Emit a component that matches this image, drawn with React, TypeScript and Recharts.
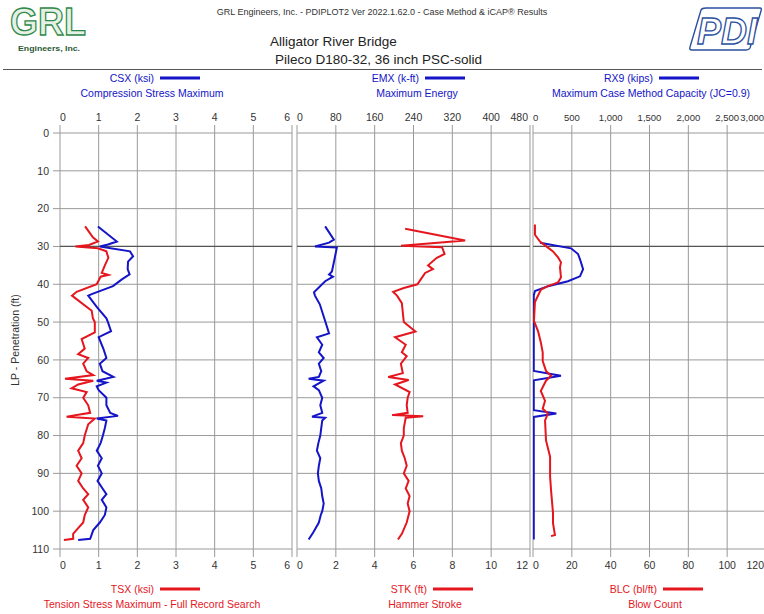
import React from 'react';
import { LineChart, Line, XAxis, YAxis, CartesianGrid, ReferenceLine } from 'recharts';

const FONT = "'Liberation Sans Narrow', 'Arial Narrow', 'Liberation Sans', Arial, sans-serif";
const BLUE = '#1414c8';
const RED = '#e5161e';
const GRID = '#9a9a9a';

// axis ticks
const depthTicks = [0, 10, 20, 30, 40, 50, 60, 70, 80, 90, 100, 110];
const csxTicks = [0, 1, 2, 3, 4, 5, 6];
const tsxTicks = [0, 1, 2, 3, 4, 5, 6];
const emxTicks = [0, 80, 160, 240, 320, 400, 480];
const stkTicks = [0, 2, 4, 6, 8, 10, 12];
const rx9Ticks = [0, 500, 1000, 1500, 2000, 2500, 3000];
const blcTicks = [0, 20, 40, 60, 80, 100, 120];

// CSX (ksi) - compression stress max
const csxDepth = [24.7, 28.7, 29.5, 30, 31.3, 32.6, 34, 36, 37.4, 38.7, 40.5, 42.6, 43, 46, 49, 50, 52.4, 54, 57, 59.5, 61, 63, 64.5, 65.5, 66, 67, 68, 70, 72, 74, 74.8, 75.5, 76, 78, 80, 82, 84, 86, 88, 90, 92, 94, 95.5, 97, 99, 101, 103, 105, 107.3, 107.6];
const csxVals = [0.98, 1.47, 1.24, 1.03, 1.81, 1.89, 1.76, 1.75, 1.8, 1.6, 1.37, 0.82, 0.73, 0.95, 1.2, 1.24, 1.32, 1.0, 1.12, 1.2, 1.03, 1.1, 1.38, 0.95, 1.2, 0.95, 1.0, 1.2, 1.2, 1.3, 1.5, 0.95, 1.2, 1.16, 1.11, 1.05, 0.95, 1.08, 0.98, 1.08, 0.97, 1.1, 1.2, 1.08, 1.2, 1.16, 1.03, 0.86, 0.78, 0.47];

// TSX (ksi) - tension stress max
const tsxDepth = [24.7, 27.6, 28.7, 29.6, 30, 30.5, 31.3, 33, 35, 37, 37.5, 38, 40, 42, 43, 47, 49, 50, 52.7, 54.5, 57, 58.5, 59.5, 61, 63, 64, 65, 65.5, 66.5, 67.5, 68.5, 70, 72, 74, 75, 75.5, 77, 80, 82, 84, 86, 88, 90, 92, 94, 95.5, 97, 99, 101, 103, 104.5, 106, 107.3, 107.6];
const tsxVals = [0.65, 0.85, 0.98, 0.75, 0.4, 0.98, 1.2, 1.25, 1.16, 1.08, 1.25, 1.05, 0.95, 0.43, 0.31, 0.82, 0.85, 0.9, 0.9, 0.56, 0.64, 0.47, 0.73, 0.6, 0.69, 0.86, 0.13, 0.86, 0.47, 0.3, 0.69, 0.6, 0.73, 0.78, 0.17, 0.9, 0.73, 0.64, 0.6, 0.47, 0.56, 0.43, 0.56, 0.47, 0.6, 0.73, 0.6, 0.73, 0.64, 0.6, 0.47, 0.34, 0.34, 0.1];

// EMX (k-ft) - max energy
const emxDepth = [24.7, 28.2, 29, 30, 30.3, 32.9, 36.6, 37.4, 38, 39.2, 42.1, 43, 45.3, 49.7, 53, 54, 56, 58, 59.5, 61, 63, 64.5, 65, 65.5, 67, 68, 70, 72, 74, 75, 75.3, 76, 78, 80, 82, 84, 86, 88, 90, 92, 94, 96, 98, 100, 101, 103, 105.5, 107.5];
const emxVals = [58, 76, 66, 37, 82, 78, 72, 66, 74, 58, 35, 37, 47, 58, 66, 41, 52, 45, 55, 45, 50, 45, 24, 55, 34, 45, 52, 48, 52, 31, 58, 52, 50, 48, 44, 41, 48, 45, 43, 45, 50, 52, 55, 52, 49, 45, 34, 24];

// STK (ft) - hammer stroke
const stkDepth = [25.3, 28.4, 29.8, 30.2, 32, 33, 35, 36, 37, 38.5, 40, 41, 42, 43, 45, 50, 52.5, 54, 56, 58, 59, 61, 63.5, 64.5, 65.3, 66.5, 68.5, 70, 72, 74, 74.6, 74.9, 75.3, 78, 80, 82, 84, 86, 88, 90, 92, 94, 96, 98, 100, 103, 106, 107.5];
const stkVals = [5.57, 8.66, 5.36, 7.47, 7.6, 7.2, 6.75, 7.0, 6.6, 6.4, 6.2, 5.5, 4.95, 5.15, 5.4, 5.5, 6.1, 5.05, 5.6, 5.4, 5.65, 5.35, 5.45, 4.7, 5.75, 5.05, 5.8, 5.7, 5.65, 5.7, 4.9, 6.5, 5.6, 5.5, 5.5, 5.35, 5.4, 5.55, 5.65, 5.5, 5.75, 5.6, 5.8, 5.7, 5.8, 5.65, 5.4, 5.2];

// RX9 (kips) - max case method capacity
const rx9Depth = [29, 30.5, 32, 33.4, 36, 37.9, 39.2, 40.5, 41.8, 43, 62.9, 64.2, 65.4, 73.3, 74.2, 75.1, 107.5];
const rx9Vals = [90, 490, 580, 605, 645, 605, 450, 195, 25, 10, 10, 360, 10, 10, 300, 10, 10];

// BLC (bl/ft) - blow count
const blcDepth = [24.2, 26.9, 28.7, 30.3, 31.3, 32.9, 34.2, 35.5, 38.2, 39.5, 40.5, 41.4, 44.7, 49.7, 52.4, 55.3, 58, 60.3, 62.9, 64.2, 65.5, 68.2, 70.8, 72.9, 74.2, 76, 81.3, 85.6, 90.8, 94.5, 100.5, 103.2, 106.3, 106.6];
const blcVals = [1, 1, 3.6, 7.7, 10.3, 12.9, 14.4, 13.9, 14.4, 12.9, 7.7, 4.1, 1, 0.5, 2.6, 4, 5, 5, 6.7, 9.3, 6.7, 4, 6.2, 5, 7.7, 6.2, 6.7, 8.8, 8.8, 9.3, 10.3, 10.3, 11.3, 9.3];

const pairs = (d: number[], v: number[]) => d.map((depth, i) => ({ depth, v: v[i] }));

const comma = (n: number) => n.toLocaleString('en-US');

const makeTick = (side: 'top' | 'bottom', max: number, fmt: (n: number) => string, size = 10.5) => (p: any) => {
  const val = p.payload.value;
  let anchor: 'start' | 'middle' | 'end' = 'middle';
  let x = p.x;
  if (val === 0) anchor = 'start';
  if (val === max) { anchor = 'end'; x = p.x - 2; }
  return (
    <text x={x} y={p.y} dy={side === 'top' ? 0 : 9} textAnchor={anchor} fontSize={size} fill="#333" fontFamily={FONT}>
      {fmt(val)}
    </text>
  );
};

type AxisDef = { max: number; ticks: number[]; fmt: (n: number) => string; data: any[]; size?: number };

function Panel({ left, width, margin, showY, top, bottom }: { left: number; width: number; margin: any; showY: boolean; top: AxisDef; bottom: AxisDef }) {
  return (
    <div style={{ position: 'absolute', left, top: 100 }}>
      <LineChart layout="vertical" width={width} height={480} margin={margin}>
        <CartesianGrid xAxisId="top" stroke={GRID} />
        <XAxis xAxisId="top" orientation="top" type="number" domain={[0, top.max]} ticks={top.ticks} interval={0}
          height={30} tickSize={8} tickMargin={4} tickLine={{ stroke: GRID }} axisLine={false}
          tick={makeTick('top', top.max, top.fmt, top.size)} allowDataOverflow />
        <XAxis xAxisId="bottom" orientation="bottom" type="number" domain={[0, bottom.max]} ticks={bottom.ticks} interval={0}
          height={30} tickSize={8} tickMargin={3} tickLine={{ stroke: GRID }} axisLine={false}
          tick={makeTick('bottom', bottom.max, bottom.fmt, bottom.size)} allowDataOverflow />
        <YAxis type="number" dataKey="depth" domain={[0, 110]} ticks={depthTicks} interval={0} hide={!showY}
          width={45} tickSize={7} tickMargin={4} tickLine={{ stroke: GRID }} axisLine={false}
          tick={{ fontSize: 10.5, fill: '#333', fontFamily: FONT }} />
        <ReferenceLine xAxisId="top" y={30} stroke="#555" strokeWidth={1.2} />
        <Line xAxisId="top" data={top.data} dataKey="v" type="linear" stroke={BLUE} strokeWidth={2} dot={false} isAnimationActive={false} />
        <Line xAxisId="bottom" data={bottom.data} dataKey="v" type="linear" stroke={RED} strokeWidth={2} dot={false} isAnimationActive={false} />
      </LineChart>
    </div>
  );
}

const Legend = ({ cx, y, name, desc, color }: { cx: number; y: number; name: string; desc: string; color: string }) => (
  <g fontFamily={FONT} fontSize={10.5} fill={color}>
    <text x={cx + 2} y={y} textAnchor="end">{name}</text>
    <line x1={cx + 8} x2={cx + 48} y1={y - 4} y2={y - 4} stroke={color} strokeWidth={3} />
    <text x={cx} y={y + 15} textAnchor="middle">{desc}</text>
  </g>
);

export default function App() {
  const fmt = (n: number) => String(n);
  return (
    <div style={{ position: 'absolute', left: 0, top: 0, width: 764, height: 614, overflow: 'hidden', background: '#fff', fontFamily: FONT }}>
      <svg width={764} height={614} style={{ position: 'absolute', left: 0, top: 0 }}>
        {/* GRL logo */}
        <text x={10} y={35} fontSize={38} fontWeight="bold" fill="#e6f1e6" stroke="#2f8a4a" strokeWidth={1.3} fontFamily={FONT}
          textLength={76} lengthAdjust="spacingAndGlyphs">GRL</text>
        <text x={18} y={51} fontSize={8} fontWeight="bold" fill="#2b5a34" fontFamily={FONT}
          textLength={62} lengthAdjust="spacingAndGlyphs">Engineers, Inc.</text>
        {/* PDI logo */}
        <path d="M706 8 H760 Q762 8 761 11 L750 48 Q749 50 746 50 H692 Q689 50 690 47 L701 10 Q702 8 706 8 Z" fill="none" stroke="#2a4fa0" strokeWidth={1.4} />
        <text x={697} y={44} fontSize={36} fontStyle="italic" fontWeight="bold" fill="#fff" stroke="#2a4fa0" strokeWidth={1.3} fontFamily={FONT}>PDI</text>
        {/* header */}
        <text x={382} y={15} fontSize={9} fill="#333" textAnchor="middle">GRL Engineers, Inc. - PDIPLOT2 Ver 2022.1.62.0 - Case Method &amp; iCAP® Results</text>
        <text x={270} y={46} fontSize={13.5} fill="#222">Alligator River Bridge</text>
        <text x={275} y={64} fontSize={13.5} fill="#222">Pileco D180-32, 36 inch PSC-solid</text>
        <line x1={3} x2={762} y1={69.5} y2={69.5} stroke="#555" strokeWidth={1} />
        {/* legends */}
        <Legend cx={152} y={82} name="CSX (ksi)" desc="Compression Stress Maximum" color={BLUE} />
        <Legend cx={417} y={82} name="EMX (k-ft)" desc="Maximum Energy" color={BLUE} />
        <Legend cx={651} y={82} name="RX9 (kips)" desc="Maximum Case Method Capacity (JC=0.9)" color={BLUE} />
        <Legend cx={152} y={593} name="TSX (ksi)" desc="Tension Stress Maximum - Full Record Search" color={RED} />
        <Legend cx={425} y={593} name="STK (ft)" desc="Hammer Stroke" color={RED} />
        <Legend cx={655} y={593} name="BLC (bl/ft)" desc="Blow Count" color={RED} />
        <text transform="translate(19,340) rotate(-90)" fontSize={10.5} fill="#333" textAnchor="middle">LP - Penetration (ft)</text>
      </svg>
      <Panel left={0} width={296} margin={{ top: 3, right: 4, bottom: 1, left: 15 }} showY
        top={{ max: 6, ticks: csxTicks, fmt, data: pairs(csxDepth, csxVals) }}
        bottom={{ max: 6, ticks: tsxTicks, fmt, data: pairs(tsxDepth, tsxVals) }} />
      <Panel left={296} width={236} margin={{ top: 3, right: 2, bottom: 1, left: 1 }} showY={false}
        top={{ max: 480, ticks: emxTicks, fmt, data: pairs(emxDepth, emxVals) }}
        bottom={{ max: 12, ticks: stkTicks, fmt, data: pairs(stkDepth, stkVals) }} />
      <Panel left={532} width={236} margin={{ top: 3, right: 2, bottom: 1, left: 1 }} showY={false}
        top={{ max: 3000, ticks: rx9Ticks, fmt: comma, data: pairs(rx9Depth, rx9Vals), size: 9.5 }}
        bottom={{ max: 120, ticks: blcTicks, fmt, data: pairs(blcDepth, blcVals) }} />
    </div>
  );
}
